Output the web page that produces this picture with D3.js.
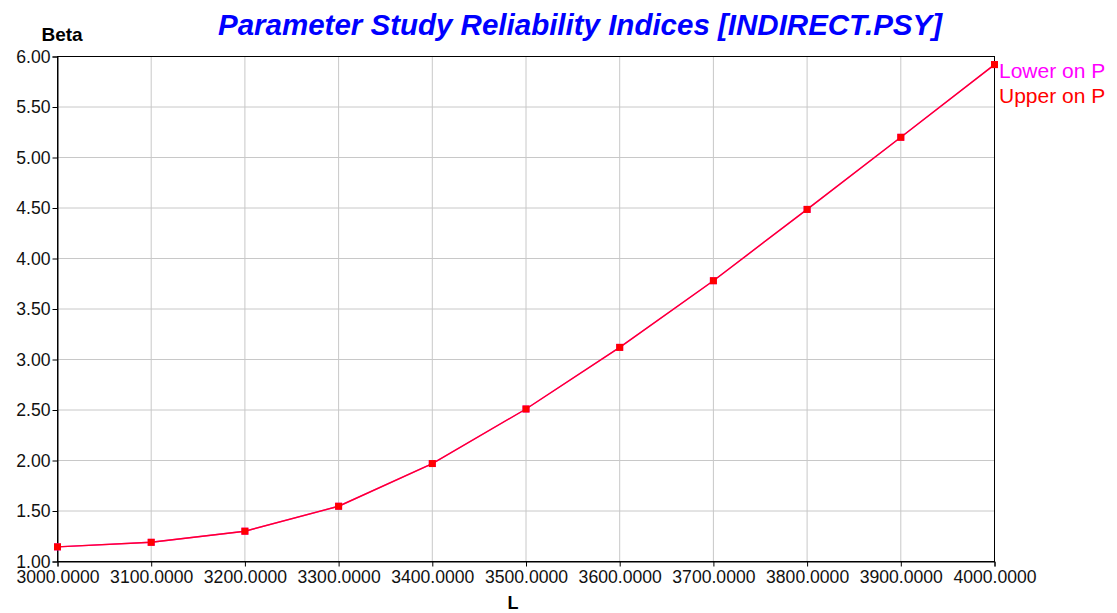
<!DOCTYPE html>
<html><head><meta charset="utf-8">
<script src="https://cdn.jsdelivr.net/npm/d3@7/dist/d3.min.js"></script>
<style>body{margin:0;background:#fff}svg{display:block;font-family:"Liberation Sans",Arial,sans-serif}</style>
</head><body><svg id="c" width="1117" height="613"></svg>
<script>
const xValues = [3000,3100,3200,3300,3400,3500,3600,3700,3800,3900,4000];
const lowerBeta = [1.145,1.19,1.30,1.547,1.97,2.51,3.12,3.78,4.486,5.20,5.92];
const upperBeta = [1.145,1.19,1.30,1.547,1.97,2.51,3.12,3.78,4.486,5.20,5.92];
const yTicks = [1.0,1.5,2.0,2.5,3.0,3.5,4.0,4.5,5.0,5.5,6.0];
const xTicks = [3000,3100,3200,3300,3400,3500,3600,3700,3800,3900,4000];
const seriesNames = ["Lower on P","Upper on P"];
const seriesColors = ["#ff00ff","#ff0000"];

const svg = d3.select("#c");
const L=57.5, R=994.5, T=56.5, B=561.5;
const x = d3.scaleLinear().domain([3000,4000]).range([L,R]);
const y = d3.scaleLinear().domain([1,6]).range([B,T]);

// grid
svg.append("g").selectAll("line").data(xTicks.slice(1,-1)).join("line")
  .attr("x1",d=>x(d)).attr("x2",d=>x(d)).attr("y1",T).attr("y2",B)
  .attr("stroke","#c8c8c8").attr("stroke-width",1);
svg.append("g").selectAll("line").data(yTicks.slice(1,-1)).join("line")
  .attr("x1",L).attr("x2",R).attr("y1",d=>y(d)).attr("y2",d=>y(d))
  .attr("stroke","#c8c8c8").attr("stroke-width",1);

// frame
svg.append("rect").attr("x",L).attr("y",T).attr("width",R-L).attr("height",B-T)
  .attr("fill","none").attr("stroke","#000").attr("stroke-width",1);

// axes
const xAxis = d3.axisBottom(x).tickValues(xTicks).tickSize(5).tickPadding(4)
  .tickFormat(d=>d3.format(".4f")(d));
const gx = svg.append("g").attr("transform",`translate(0,${B})`).call(xAxis);
gx.select(".domain").attr("stroke","#000");
gx.selectAll(".tick line").attr("stroke","#000");
gx.selectAll("text").attr("font-size","17.6px").attr("fill","#111").attr("font-family","Liberation Sans, Arial, sans-serif");

const yAxis = d3.axisLeft(y).tickValues(yTicks).tickSize(5).tickPadding(2)
  .tickFormat(d=>d3.format(".2f")(d));
const gy = svg.append("g").attr("transform",`translate(${L},0)`).call(yAxis);
gy.select(".domain").attr("stroke","#000");
gy.selectAll(".tick line").attr("stroke","#000");
gy.selectAll("text").attr("font-size","17.6px").attr("fill","#111").attr("font-family","Liberation Sans, Arial, sans-serif");

// series
const line = d3.line().x((d,i)=>x(xValues[i])).y(d=>y(d));
[lowerBeta, upperBeta].forEach((s,k)=>{
  svg.append("path").datum(s).attr("d",line).attr("fill","none")
    .attr("stroke",seriesColors[k]).attr("stroke-width",1.4)
    .attr("stroke-opacity", k===1?0.85:1);
  svg.append("g").selectAll("rect").data(s).join("rect")
    .attr("x",(d,i)=>x(xValues[i])-3.5).attr("y",d=>y(d)-3.5)
    .attr("width",7).attr("height",7).attr("fill",seriesColors[k]);
});

// legend
seriesNames.forEach((n,k)=>{
  svg.append("text").attr("x",999).attr("y",78+k*25).attr("font-size","21px")
    .attr("fill",seriesColors[k]).text(n);
});

// titles
svg.append("text").attr("x",580).attr("y",35).attr("text-anchor","middle")
  .attr("font-size","29.5px").attr("font-weight","bold").attr("font-style","italic")
  .attr("fill","#0000ff").text("Parameter Study Reliability Indices [INDIRECT.PSY]");
svg.append("text").attr("x",62).attr("y",41).attr("text-anchor","middle")
  .attr("font-size","19px").attr("font-weight","bold").attr("fill","#000").text("Beta");
svg.append("text").attr("x",513).attr("y",609).attr("text-anchor","middle")
  .attr("font-size","18px").attr("font-weight","bold").attr("fill","#000").text("L");
</script></body></html>
